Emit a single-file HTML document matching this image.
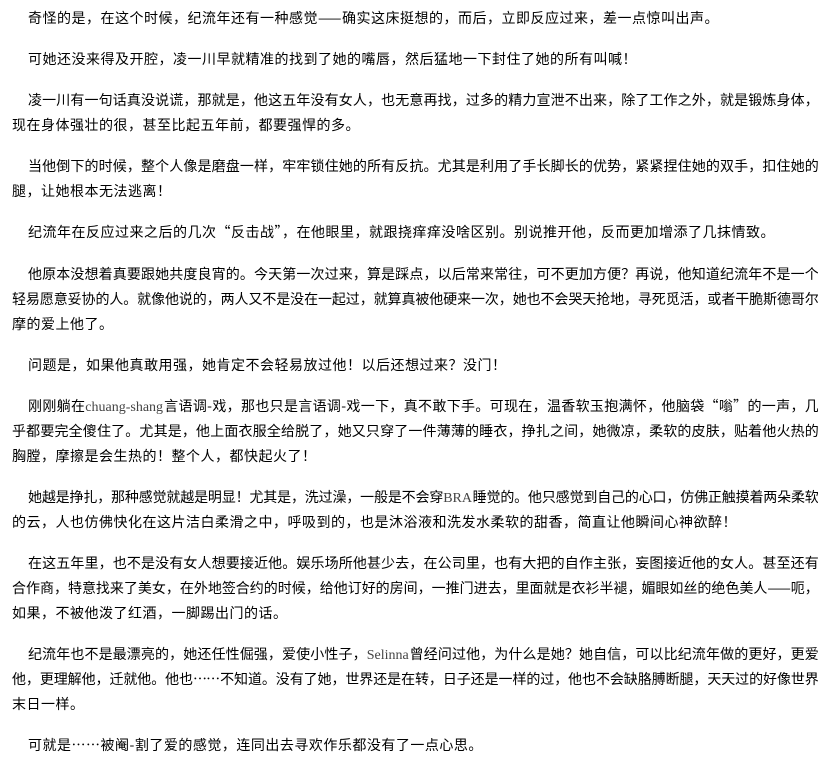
<!DOCTYPE html>
<html><head><meta charset="utf-8">
<style>
html,body{margin:0;padding:0;background:#fff;}
body{width:835px;height:777px;position:relative;overflow:hidden;font-family:"Noto Sans CJK SC","WenQuanYi Zen Hei",sans-serif;font-size:14px;color:#000;}
.l{position:absolute;left:12px;width:806px;height:25px;line-height:25px;white-space:nowrap;overflow:visible;letter-spacing:0.5px;}
.j{text-align:justify;text-align-last:justify;white-space:normal;letter-spacing:-0.8px;height:25px;overflow:hidden;}
.i{left:28px;width:790px;}
.e{font-family:"Liberation Serif",serif;color:#444;letter-spacing:0;}
</style></head><body>
<div class="l i" style="top:6px">奇怪的是，在这个时候，纪流年还有一种感觉——确实这床挺想的，而后，立即反应过来，差一点惊叫出声。</div>
<div class="l i" style="top:47px">可她还没来得及开腔，凌一川早就精准的找到了她的嘴唇，然后猛地一下封住了她的所有叫喊！</div>
<div class="l i j" style="top:88px">凌一川有一句话真没说谎，那就是，他这五年没有女人，也无意再找，过多的精力宣泄不出来，除了工作之外，就是锻炼身体，</div>
<div class="l" style="top:113px">现在身体强壮的很，甚至比起五年前，都要强悍的多。</div>
<div class="l i j" style="top:154px">当他倒下的时候，整个人像是磨盘一样，牢牢锁住她的所有反抗。尤其是利用了手长脚长的优势，紧紧捏住她的双手，扣住她的</div>
<div class="l" style="top:179px">腿，让她根本无法逃离！</div>
<div class="l i" style="top:220px">纪流年在反应过来之后的几次“反击战”，在他眼里，就跟挠痒痒没啥区别。别说推开他，反而更加增添了几抹情致。</div>
<div class="l i j" style="top:262px">他原本没想着真要跟她共度良宵的。今天第一次过来，算是踩点，以后常来常往，可不更加方便？再说，他知道纪流年不是一个</div>
<div class="l j" style="top:287px">轻易愿意妥协的人。就像他说的，两人又不是没在一起过，就算真被他硬来一次，她也不会哭天抢地，寻死觅活，或者干脆斯德哥尔</div>
<div class="l" style="top:312px">摩的爱上他了。</div>
<div class="l i" style="top:353px">问题是，如果他真敢用强，她肯定不会轻易放过他！以后还想过来？没门！</div>
<div class="l i j" style="top:394px">刚刚躺在<span class="e">chuang-shang</span>言语调-戏，那也只是言语调-戏一下，真不敢下手。可现在，温香软玉抱满怀，他脑袋“嗡”的一声，几</div>
<div class="l j" style="top:419px">乎都要完全傻住了。尤其是，他上面衣服全给脱了，她又只穿了一件薄薄的睡衣，挣扎之间，她微凉，柔软的皮肤，贴着他火热的</div>
<div class="l" style="top:444px">胸膛，摩擦是会生热的！整个人，都快起火了！</div>
<div class="l i j" style="top:485px">她越是挣扎，那种感觉就越是明显！尤其是，洗过澡，一般是不会穿<span class="e">BRA</span>睡觉的。他只感觉到自己的心口，仿佛正触摸着两朵柔软</div>
<div class="l" style="top:510px">的云，人也仿佛快化在这片洁白柔滑之中，呼吸到的，也是沐浴液和洗发水柔软的甜香，简直让他瞬间心神欲醉！</div>
<div class="l i j" style="top:551px">在这五年里，也不是没有女人想要接近他。娱乐场所他甚少去，在公司里，也有大把的自作主张，妄图接近他的女人。甚至还有</div>
<div class="l j" style="top:576px">合作商，特意找来了美女，在外地签合约的时候，给他订好的房间，一推门进去，里面就是衣衫半褪，媚眼如丝的绝色美人——呃，</div>
<div class="l" style="top:601px">如果，不被他泼了红酒，一脚踢出门的话。</div>
<div class="l i j" style="top:642px">纪流年也不是最漂亮的，她还任性倔强，爱使小性子，<span class="e">Selinna</span>曾经问过他，为什么是她？她自信，可以比纪流年做的更好，更爱</div>
<div class="l j" style="top:667px">他，更理解他，迁就他。他也……不知道。没有了她，世界还是在转，日子还是一样的过，他也不会缺胳膊断腿，天天过的好像世界</div>
<div class="l" style="top:692px">末日一样。</div>
<div class="l i" style="top:733px">可就是……被阉-割了爱的感觉，连同出去寻欢作乐都没有了一点心思。</div>
</body></html>
